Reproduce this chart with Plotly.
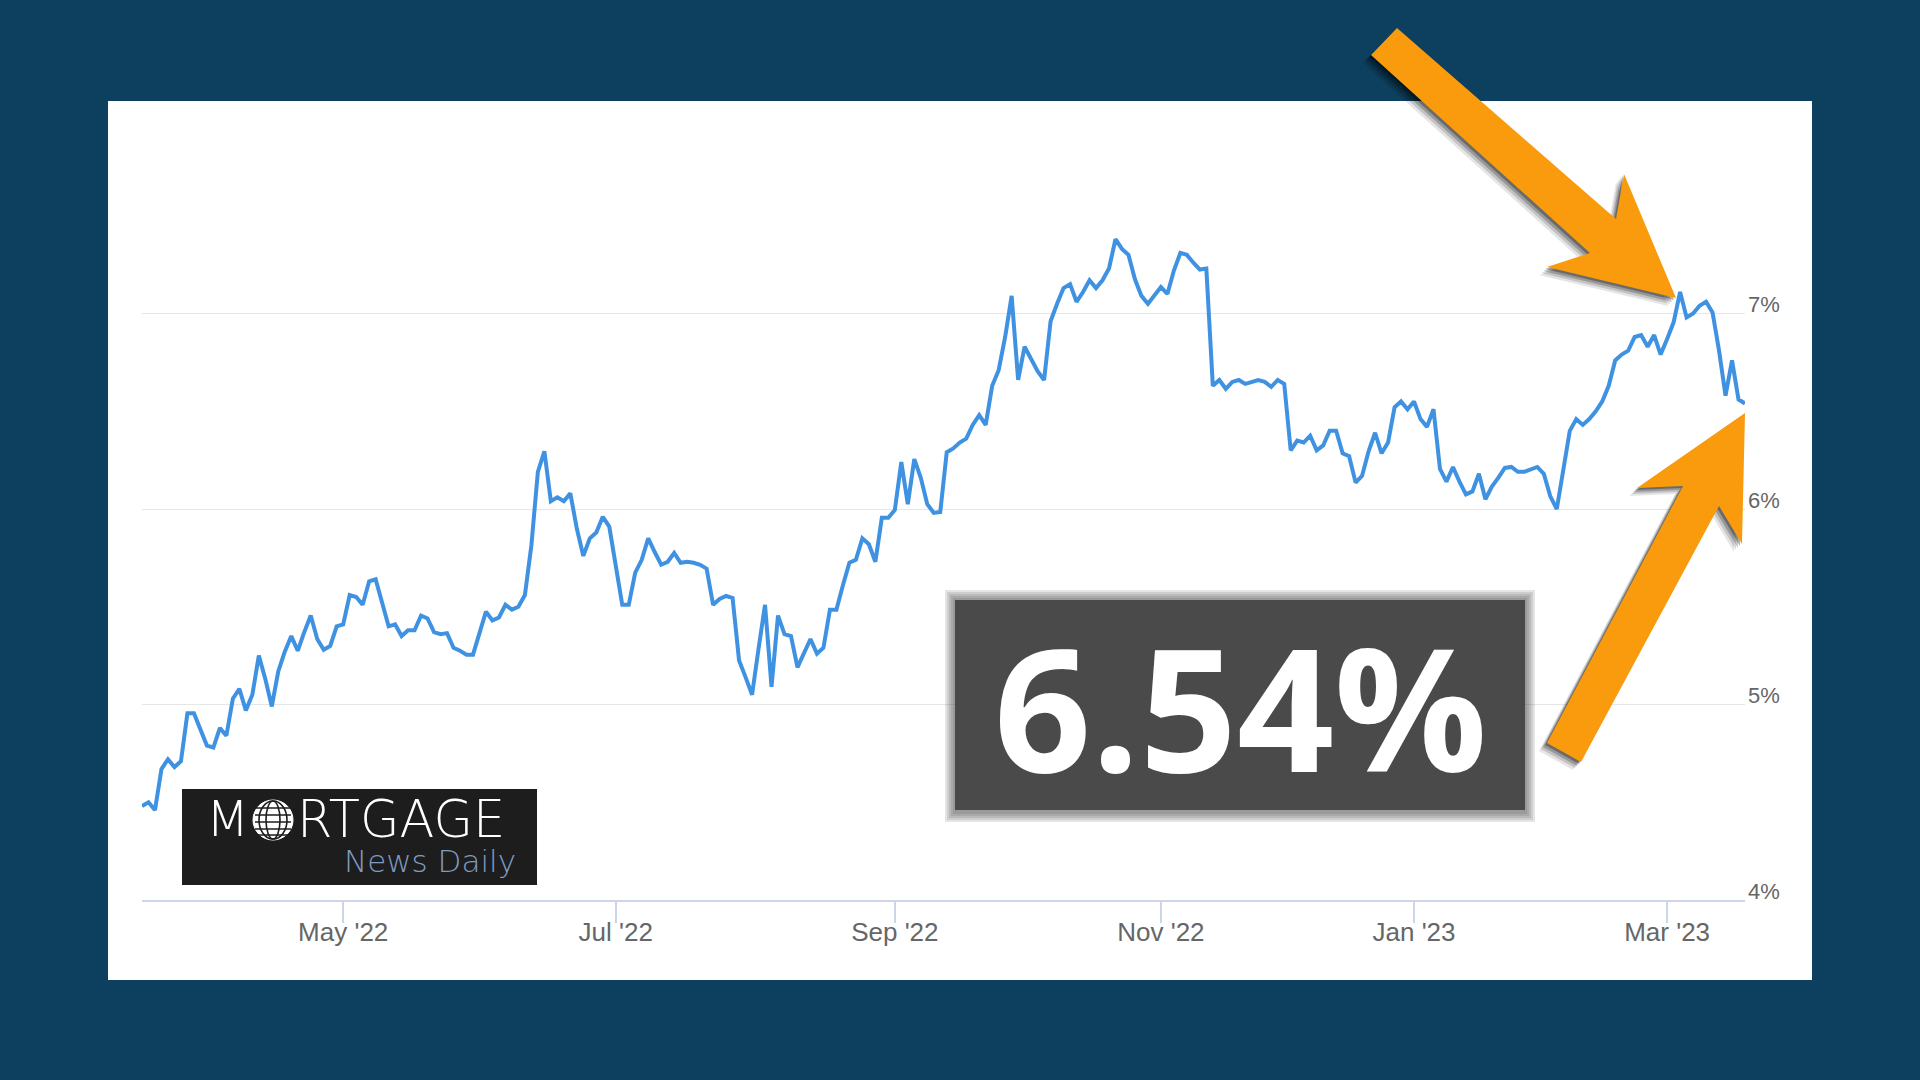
import pandas as pd
import plotly.graph_objects as go

# Tasa hipotecaria a 30 años (MND), un valor por día hábil
rate = [
    4.48, 4.50, 4.46, 4.67, 4.72, 4.68, 4.71, 4.955, 4.955, 4.87,
    4.79, 4.78, 4.88, 4.84, 5.03, 5.08, 4.97, 5.05, 5.25, 5.13,
    4.99, 5.17, 5.27, 5.35, 5.275, 5.37, 5.455, 5.335, 5.28, 5.30,
    5.40, 5.41, 5.56, 5.55, 5.51, 5.63, 5.64, 5.52, 5.40, 5.41,
    5.35, 5.38, 5.38, 5.455, 5.44, 5.37, 5.36, 5.365, 5.29, 5.275,
    5.255, 5.255, 5.37, 5.475, 5.43, 5.445, 5.51, 5.485, 5.50, 5.56,
    5.815, 6.19, 6.295, 6.04, 6.06, 6.04, 6.08, 5.90, 5.76, 5.85,
    5.88, 5.96, 5.91, 5.695, 5.51, 5.51, 5.675, 5.74, 5.85, 5.78,
    5.715, 5.73, 5.775, 5.725, 5.73, 5.725, 5.715, 5.695, 5.51, 5.54,
    5.555, 5.545, 5.225, 5.14, 5.05, 5.285, 5.51, 5.09, 5.455, 5.36,
    5.35, 5.19, 5.265, 5.335, 5.26, 5.29, 5.485, 5.485, 5.61, 5.725,
    5.74, 5.85, 5.82, 5.73, 5.955, 5.955, 5.995, 6.24, 6.025, 6.255,
    6.16, 6.025, 5.98, 5.985, 6.29, 6.31, 6.34, 6.36, 6.43, 6.48,
    6.43, 6.63, 6.71, 6.88, 7.09, 6.66, 6.83, 6.765, 6.705, 6.66,
    6.96, 7.05, 7.13, 7.15, 7.06, 7.11, 7.17, 7.13, 7.17, 7.23,
    7.38, 7.33, 7.30, 7.175, 7.09, 7.05, 7.09, 7.135, 7.10, 7.22,
    7.31, 7.30, 7.26, 7.225, 7.23, 6.63, 6.66, 6.615, 6.65, 6.66,
    6.64, 6.65, 6.66, 6.65, 6.625, 6.66, 6.64, 6.30, 6.35, 6.34,
    6.375, 6.30, 6.325, 6.40, 6.40, 6.285, 6.27, 6.135, 6.17, 6.295,
    6.39, 6.285, 6.34, 6.52, 6.55, 6.51, 6.55, 6.46, 6.42, 6.51,
    6.205, 6.14, 6.215, 6.14, 6.075, 6.09, 6.18, 6.05, 6.115, 6.16,
    6.21, 6.215, 6.19, 6.19, 6.205, 6.215, 6.18, 6.065, 6.00, 6.21,
    6.40, 6.46, 6.43, 6.46, 6.50, 6.55, 6.63, 6.76, 6.79, 6.81,
    6.88, 6.89, 6.83, 6.89, 6.79, 6.87, 6.955, 7.11, 6.98, 7.00,
    7.04, 7.06, 7.005, 6.81, 6.58, 6.76, 6.56, 6.54,
]

# dias sin dato (feriados del mercado de bonos)
feriados = [
    "2022-04-15", "2022-05-30", "2022-06-20", "2022-07-04", "2022-09-05",
    "2022-10-10", "2022-11-11", "2022-11-24", "2022-11-25", "2022-12-26",
    "2022-12-30", "2023-01-02", "2023-01-16", "2023-02-20",
]

meses_ticks = ["2022-05", "2022-07", "2022-09", "2022-11", "2023-01", "2023-03"]
texto_ticks = ["May '22", "Jul '22", "Sep '22", "Nov '22", "Jan '23", "Mar '23"]
y_ticks = [4, 5, 6, 7, 8]
y_texto = ["4%", "5%", "6%", "7%", ""]
ultimo_valor = "6.54%"

fechas = pd.bdate_range("2022-03-17", "2023-03-17", freq="C", holidays=feriados)
fechas = fechas.strftime("%Y-%m-%d").tolist()[-len(rate):]
tickvals = [next(f for f in fechas if f.startswith(m)) for m in meses_ticks]

# area del grafico en pixeles (para ubicar los adornos)
PL, PR, PT, PB = 142, 1745, 118, 900


def xp(x):
    return (x - PL) / (PR - PL)


def yp(y):
    return (PB - y) / (PB - PT)


def poligono(pts, dx=0, dy=0):
    s = "M " + " L ".join(f"{xp(x + dx):.5f},{yp(y + dy):.5f}" for x, y in pts)
    return s + " Z"


def rect(x0, y0, x1, y1, color, layer="above", opacity=1):
    return dict(type="rect", xref="paper", yref="paper", x0=xp(x0), x1=xp(x1),
                y0=yp(y1), y1=yp(y0), fillcolor=color, line_width=0,
                layer=layer, opacity=opacity)


fig = go.Figure()
fig.add_trace(go.Scatter(x=fechas, y=rate, mode="lines",
                         line=dict(color="#3f92e2", width=4),
                         hoverinfo="skip", showlegend=False))

shapes = []
# panel blanco
shapes.append(rect(108, 101, 1812, 980, "white", layer="below"))

# recuadro con el ultimo valor (bordes difusos)
for pad in [10, 8, 6, 4, 2]:
    shapes.append(rect(955 - pad, 600 - pad, 1525 + pad, 810 + pad + 2, "#333333", opacity=0.13))
shapes.append(rect(955, 600, 1525, 810, "#4a4a4a"))

# logo
shapes.append(rect(182, 789, 537, 885, "#1d1d1d"))
gx, gy, gr = 273, 820, 20
shapes.append(dict(type="circle", xref="paper", yref="paper", x0=xp(gx - gr), x1=xp(gx + gr),
                   y0=yp(gy + gr), y1=yp(gy - gr), fillcolor="white", line=dict(color="white", width=1)))
for rx in [7, 14]:
    shapes.append(dict(type="circle", xref="paper", yref="paper", x0=xp(gx - rx), x1=xp(gx + rx),
                       y0=yp(gy + gr - 1), y1=yp(gy - gr + 1), line=dict(color="#1d1d1d", width=1.6)))
for dy in [-12, -5, 2, 9, 15]:
    shapes.append(dict(type="line", xref="paper", yref="paper", x0=xp(gx - gr + 2), x1=xp(gx + gr - 2),
                       y0=yp(gy + dy), y1=yp(gy + dy), line=dict(color="#1d1d1d", width=1.6)))

# flechas naranjas con sombra
flecha_sup = [(1397, 28), (1616, 219), (1624, 174), (1676, 298), (1547, 267), (1590, 253), (1371, 55)]
flecha_inf = [(1745, 413), (1742, 544), (1719, 506), (1581, 762), (1547, 743), (1683, 486), (1637, 488)]
for pts in [flecha_sup, flecha_inf]:
    for d, op in [(8, 0.10), (6, 0.15), (4, 0.22), (2, 0.3)]:
        shapes.append(dict(type="path", xref="paper", yref="paper", path=poligono(pts, -d, d),
                           fillcolor="black", opacity=op, line_width=0, layer="above"))
    shapes.append(dict(type="path", xref="paper", yref="paper", path=poligono(pts),
                       fillcolor="#f99b0c", line_width=0, layer="above"))

annotations = [
    dict(text=ultimo_valor, x=xp(1240), y=yp(706), xref="paper", yref="paper",
         showarrow=False, xanchor="center", yanchor="middle",
         font=dict(family="Open Sans", size=170, color="white", weight="bold")),
    dict(text="M", x=xp(251), y=yp(819), xref="paper", yref="paper", showarrow=False,
         xanchor="right", yanchor="middle",
         font=dict(family="DejaVu Sans", size=50, color="white", weight=200)),
    dict(text="RTGAGE", x=xp(295), y=yp(819), xref="paper", yref="paper", showarrow=False,
         xanchor="left", yanchor="middle",
         font=dict(family="DejaVu Sans", size=51, color="white", weight=200)),
    dict(text="News Daily", x=xp(518), y=yp(861), xref="paper", yref="paper", showarrow=False,
         xanchor="right", yanchor="middle",
         font=dict(family="DejaVu Sans", size=31, color="#7d9cc4", weight=200)),
]

fig.update_layout(
    width=1920, height=1080, autosize=False,
    margin=dict(l=PL, r=1920 - PR, t=PT, b=1080 - PB, pad=0),
    paper_bgcolor="#0d3f5e",
    plot_bgcolor="rgba(0,0,0,0)",
    shapes=shapes,
    annotations=annotations,
    showlegend=False,
    xaxis=dict(
        type="category", range=[0, len(rate) - 1],
        tickvals=tickvals, ticktext=texto_ticks,
        showgrid=False, zeroline=False,
        showline=True, linecolor="#ccd6eb", linewidth=2,
        ticks="outside", ticklen=21, tickwidth=2, tickcolor="#ccd6eb",
        ticklabelstandoff=-13,
        tickfont=dict(family="Liberation Sans", size=26, color="#666666"),
    ),
    yaxis=dict(
        side="right", range=[4, 8],
        tickvals=y_ticks, ticktext=y_texto,
        showgrid=True, gridcolor="#e6e6e6", gridwidth=1,
        zeroline=False, showline=False, ticks="",
        ticklabelshift=-9, ticklabelstandoff=2,
        tickfont=dict(family="Liberation Sans", size=22, color="#666666"),
    ),
)

fig.write_html("out.html", config={"displayModeBar": False},
               post_script="document.body.style.margin='0';")
